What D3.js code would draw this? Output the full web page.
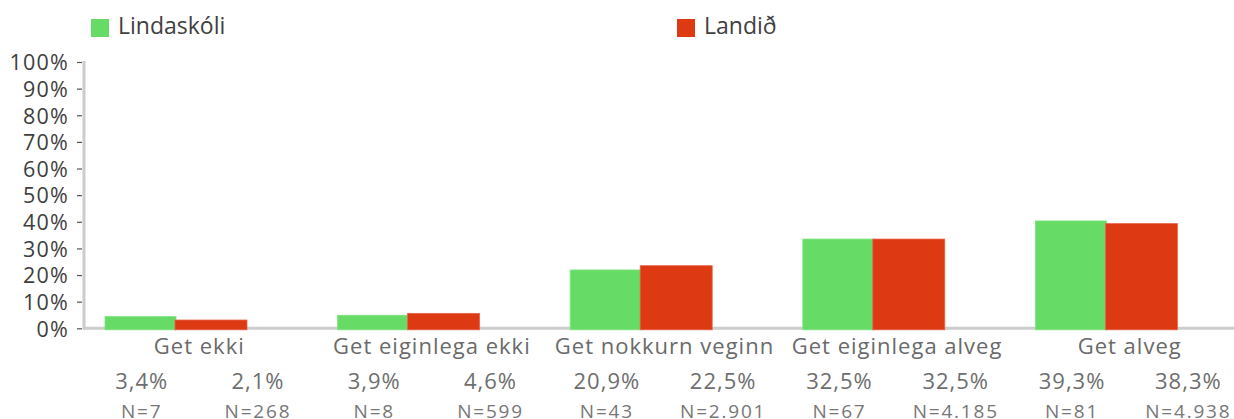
<!DOCTYPE html>
<html>
<head>
<meta charset="utf-8">
<script src="https://cdn.jsdelivr.net/npm/d3@7/dist/d3.min.js"></script>
<style>
  html, body { margin: 0; padding: 0; background: #fff; }
  svg { display: block; font-family: "Open Sans", Lato, sans-serif; }
</style>
</head>
<body>
<svg id="chart" width="1234" height="419"></svg>
<script>
// Answer categories along the x axis
const categories = ["Get ekki", "Get eiginlega ekki", "Get nokkurn veginn", "Get eiginlega alveg", "Get alveg"];
// Series names and percentages
const seriesNames = ["Lindaskóli", "Landið"];
const schoolValues = [3.4, 3.9, 20.9, 32.5, 39.3];
const nationValues = [2.1, 4.6, 22.5, 32.5, 38.3];
// Respondent counts shown under each percentage
const schoolN = ["N=7", "N=8", "N=43", "N=67", "N=81"];
const nationN = ["N=268", "N=599", "N=2.901", "N=4.185", "N=4.938"];
// Y axis ticks
const yTicks = [0, 10, 20, 30, 40, 50, 60, 70, 80, 90, 100];

const colors = ["#66dc66", "#dd3913"];
const strokes = ["#7fe47f", "#e8654a"];

const svg = d3.select("#chart");

const y = d3.scaleLinear().domain([0, 100]).range([328.3, 62]);
// bars are drawn a few pixels above the tick grid
const yBar = d3.scaleLinear().domain([0, 100]).range([325.6, 59.3]);

const x = d3.scaleBand().domain(categories).range([85, 85 + 5 * 232.6]).padding(0);
const step = x.step();
const sub = d3.scaleBand().domain(seriesNames).range([20, 162]).padding(0);

// Axis lines
svg.append("line")
  .attr("x1", 84).attr("x2", 1234)
  .attr("y1", y(0)).attr("y2", y(0))
  .attr("stroke", "#cccccc").attr("stroke-width", 3);

svg.append("line")
  .attr("x1", 84).attr("x2", 84)
  .attr("y1", y(100) - 1).attr("y2", y(0) + 1.5)
  .attr("stroke", "#cccccc").attr("stroke-width", 3);

// Y axis ticks and labels
const yAxis = d3.axisLeft(y).tickValues(yTicks).tickFormat(d => d + "%").tickSize(5).tickPadding(8);
const gy = svg.append("g").attr("transform", "translate(82,0)").call(yAxis);
gy.select(".domain").remove();
gy.selectAll(".tick line").attr("stroke", "#555").attr("stroke-width", 1.2);
gy.selectAll(".tick text")
  .attr("font-size", 21.5)
  .attr("letter-spacing", 1.2)
  .attr("fill", "#3e3e3e")
  .attr("font-family", "'Open Sans', sans-serif")
  .attr("dy", "0.36em");

// Bars
const seriesVals = [schoolValues, nationValues];
seriesNames.forEach((name, si) => {
  svg.append("g").selectAll("rect")
    .data(categories.map((c, i) => ({ c, v: seriesVals[si][i] })))
    .join("rect")
    .attr("x", d => x(d.c) + sub(name) - (si === 1 ? 1 : 0))
    .attr("width", sub.bandwidth() + (si === 1 ? 1 : 0))
    .attr("y", d => yBar(d.v))
    .attr("height", d => y(0) + 1.5 - yBar(d.v))
    .attr("fill", colors[si])
    .attr("stroke", strokes[si])
    .attr("stroke-width", 0.8);
});

// Category labels
svg.append("g").selectAll("text")
  .data(categories)
  .join("text")
  .attr("x", d => x(d) + step / 2 - 2)
  .attr("y", 354)
  .attr("text-anchor", "middle")
  .attr("font-size", 22)
  .attr("letter-spacing", 1)
  .attr("fill", "#6a6a6a")
  .text(d => d);

// Percentage and N labels under each series
const fmt = v => v.toFixed(1).replace(".", ",") + "%";
const nVals = [schoolN, nationN];
seriesNames.forEach((name, si) => {
  const cx = c => x(c) + step * (si === 0 ? 0.25 : 0.75) - 1.5;
  svg.append("g").selectAll("text")
    .data(categories.map((c, i) => ({ c, v: seriesVals[si][i] })))
    .join("text")
    .attr("x", d => cx(d.c))
    .attr("y", 389)
    .attr("text-anchor", "middle")
    .attr("font-size", 22)
    .attr("letter-spacing", 1)
    .attr("fill", "#6e6e6e")
    .text(d => fmt(d.v));
  svg.append("g").selectAll("text")
    .data(categories.map((c, i) => ({ c, n: nVals[si][i] })))
    .join("text")
    .attr("x", d => cx(d.c))
    .attr("y", 418)
    .attr("text-anchor", "middle")
    .attr("font-size", 19)
    .attr("letter-spacing", 1.8)
    .attr("fill", "#777777")
    .text(d => d.n);
});

// Legend
const legendX = [91, 677];
const legend = svg.append("g").selectAll("g")
  .data(seriesNames)
  .join("g")
  .attr("transform", (d, i) => `translate(${legendX[i]},19)`);
legend.append("rect")
  .attr("width", 18).attr("height", 18)
  .attr("fill", (d, i) => colors[i]);
legend.append("text")
  .attr("x", 27).attr("y", 15)
  .attr("font-size", 23)
  .attr("fill", "#404040")
  .text(d => d);
</script>
</body>
</html>
